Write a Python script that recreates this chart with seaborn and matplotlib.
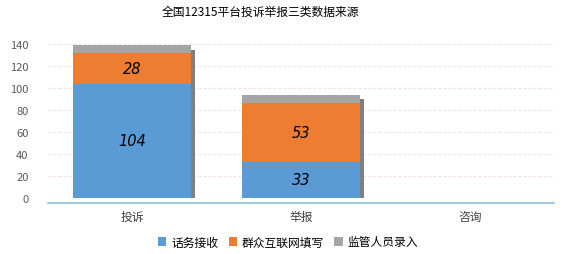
import matplotlib
matplotlib.use("Agg")
import matplotlib.pyplot as plt
from matplotlib.patches import Patch
from matplotlib.transforms import ScaledTranslation
import seaborn as sns
import numpy as np

categories = ["投诉", "举报", "咨询"]
phone = [104, 33, 0]
web = [28, 53, 0]
staff = [7, 8, 0]
series_names = ["话务接收", "群众互联网填写", "监管人员录入"]
title = "全国12315平台投诉举报三类数据来源"

colors = ["#5B9BD5", "#ED7D31", "#A5A5A5"]
shadow_color = "#808080"

sns.set_theme(style="white")
plt.rcParams["font.family"] = ["Noto Sans CJK SC", "DejaVu Sans"]

fig = plt.figure(figsize=(5.76, 2.55), dpi=100)
ax = fig.add_axes([48 / 576, 56.3 / 255, (554 - 48) / 576, (209.7 - 56.3) / 255])

cum1 = np.array(phone)
cum2 = cum1 + np.array(web)
cum3 = cum2 + np.array(staff)

# shadow
sns.barplot(x=categories, y=cum3, color=shadow_color, width=0.7, saturation=1, ax=ax,
            zorder=2, linewidth=0)
n_shadow = len(ax.patches)
off = ScaledTranslation(0.04, -0.045, fig.dpi_scale_trans)
for p in ax.patches[:n_shadow]:
    p.set_transform(ax.transData + off)

sns.barplot(x=categories, y=cum3, color=colors[2], width=0.7, saturation=1, ax=ax, zorder=3, linewidth=0)
sns.barplot(x=categories, y=cum2, color=colors[1], width=0.7, saturation=1, ax=ax, zorder=4, linewidth=0)
sns.barplot(x=categories, y=cum1, color=colors[0], width=0.7, saturation=1, ax=ax, zorder=5, linewidth=0)

# data labels
for i in range(len(categories)):
    if phone[i] > 0:
        ax.text(i, phone[i] / 2, str(phone[i]), ha="center", va="center",
                fontsize=10.5, fontstyle="italic", color="#000000", zorder=6,
                family=["DejaVu Sans"])
    if web[i] > 0:
        ax.text(i, cum1[i] + web[i] / 2, str(web[i]), ha="center", va="center",
                fontsize=10.5, fontstyle="italic", color="#000000", zorder=6,
                family=["DejaVu Sans"])

ax.set_xlim(-0.5, 2.5)
ax.set_ylim(0, 140)
ax.set_yticks(np.arange(0, 141, 20))
ax.yaxis.grid(True, color="#F7DCE3", linestyle=(0, (2.5, 2)), linewidth=0.8, zorder=0)
ax.set_axisbelow(True)
ax.set_xlabel("")
ax.set_ylabel("")

for s in ["top", "right", "left"]:
    ax.spines[s].set_visible(False)
ax.spines["bottom"].set_color("#8FC4DE")
ax.spines["bottom"].set_linewidth(1.2)
ax.spines["bottom"].set_position(("outward", 4))

ax.tick_params(axis="y", length=0, pad=14, labelsize=8, labelcolor="#595959")
ax.tick_params(axis="x", length=3, width=0.8, color="#8FC4DE", direction="inout",
               pad=3, labelsize=8.5, labelcolor="#404040")

fig.text(260 / 576, 1 - 12 / 255, title, ha="center", va="center", fontsize=8.5, color="#000000")

handles = [Patch(facecolor=c, edgecolor="none") for c in colors]
fig.legend(handles, series_names, loc="center", bbox_to_anchor=(0.5, 1 - 243 / 255), ncol=3,
           frameon=False, fontsize=8.5, handlelength=0.7, handleheight=0.7,
           handletextpad=0.4, columnspacing=0.9, labelcolor="#000000")

fig.savefig("out.png", dpi=100)
